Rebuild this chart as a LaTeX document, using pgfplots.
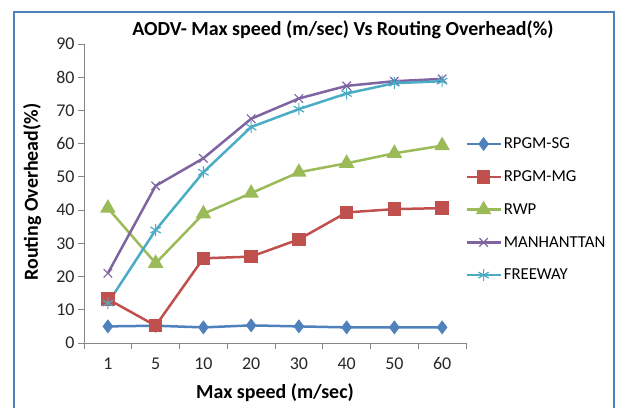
\documentclass[border=0pt]{standalone}
\usepackage{pgfplots}
\pgfplotsset{compat=1.18}
\usepackage{fontspec}
\setmainfont{Carlito}
\definecolor{cA}{HTML}{4F81BD}
\definecolor{cB}{HTML}{C0504D}
\definecolor{cC}{HTML}{9BBB59}
\definecolor{cD}{HTML}{8064A2}
\definecolor{cE}{HTML}{4BACC6}
\definecolor{frame}{HTML}{4F81BD}
\definecolor{axgray}{HTML}{868686}
\begin{document}
\begin{tikzpicture}[x=1bp,y=1bp]
\path[use as bounding box] (0,0) rectangle (620,407);
\draw[color=frame, line width=2.5bp] (14,-10) rectangle (614,395);
\begin{axis}[
  at={(84bp,64bp)}, anchor=south west,
  scale only axis, width=382bp, height=299bp,
  xmin=-0.5, xmax=7.5, ymin=0, ymax=90,
  axis x line*=bottom, axis y line*=left,
  axis line style={axgray, line width=0.8pt, -},
  xtick={0,...,7},
  xticklabels={1,5,10,20,30,40,50,60},
  major x tick style={draw=none},
  minor xtick={-0.5,0.5,...,7.5},
  minor x tick style={axgray, line width=0.8pt},
  minor tick length=6bp,
  ytick={0,10,...,90},
  y tick style={axgray, line width=0.8pt},
  major tick length=6bp,
  tick align=outside,
  tick label style={font=\fontsize{18}{20}\selectfont, text=black!85},
  xticklabel style={yshift=-5bp},
  /pgf/number format/assume math mode=true,
  title={\textbf{AODV- Max speed (m/sec) Vs Routing Overhead(\%)}},
  title style={at={(axis description cs:0.678,1.028)}, anchor=center, font=\fontsize{20}{22}\selectfont},
  xlabel={\textbf{Max speed (m/sec)}},
  xlabel style={at={(axis description cs:0.5,-0.167)}, anchor=center, font=\fontsize{20}{22}\selectfont},
  ylabel={\textbf{Routing Overhead(\%)}},
  ylabel style={at={(axis description cs:-0.136,0.505)}, anchor=center, rotate=0, font=\fontsize{20}{22}\selectfont},
  legend style={at={(axis description cs:0.99,0.70)}, anchor=north west, draw=none, fill=none,
    font=\fontsize{16.8}{18}\selectfont, row sep=16.5bp},
  legend cell align=left,
  legend image code/.code={\draw[mark repeat=2,mark phase=2] plot coordinates {(0bp,0bp) (17bp,0bp) (34bp,0bp)};},
  every axis plot/.append style={line width=2.5bp},
]
\addplot[cA, mark=diamond*, mark size=5bp, mark options={solid}] coordinates {(0,5.0) (1,5.2) (2,4.7) (3,5.3) (4,5.0) (5,4.7) (6,4.7) (7,4.7)};
\addlegendentry{RPGM-SG}
\addplot[cB, mark=square*, mark size=5.5bp] coordinates {(0,13.2) (1,5.2) (2,25.5) (3,26.0) (4,31.2) (5,39.3) (6,40.3) (7,40.6)};
\addlegendentry{RPGM-MG}
\addplot[cC, mark=triangle*, mark size=6.5bp] coordinates {(0,40.6) (1,24.0) (2,38.9) (3,45.1) (4,51.4) (5,54.1) (6,57.1) (7,59.4)};
\addlegendentry{RWP}
\addplot[cD, mark=x, mark size=6bp, mark options={line width=1.2bp}] coordinates {(0,21.0) (1,47.3) (2,55.6) (3,67.5) (4,73.6) (5,77.4) (6,78.8) (7,79.5)};
\addlegendentry{MANHANTTAN}
\addplot[cE, mark=asterisk, mark size=6bp, mark options={line width=1.2bp}] coordinates {(0,12.0) (1,34.0) (2,51.4) (3,65.0) (4,70.4) (5,75.1) (6,78.2) (7,78.8)};
\addlegendentry{FREEWAY}
\end{axis}
\end{tikzpicture}
\end{document}
